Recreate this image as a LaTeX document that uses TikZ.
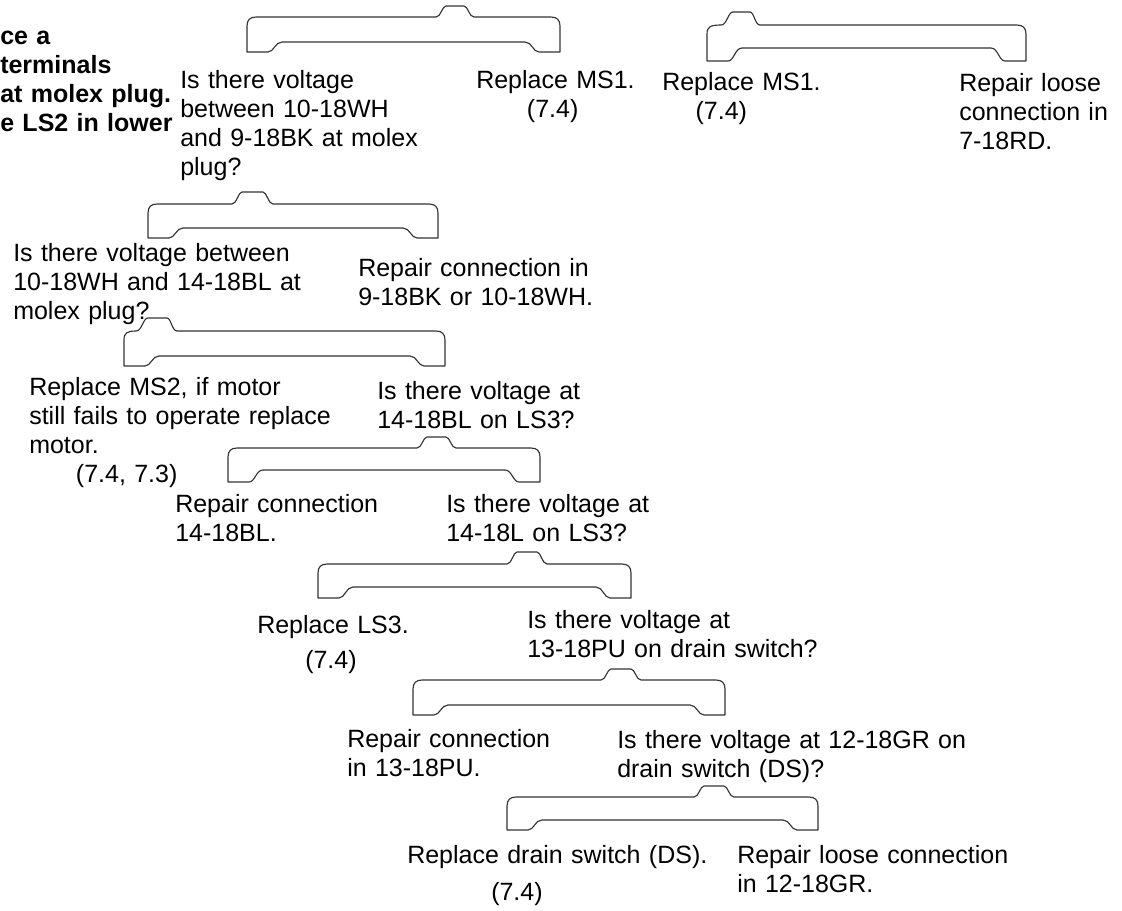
\documentclass[tikz,border=0pt]{standalone}
\usepackage{fontspec}
\setmainfont{Liberation Sans}
% bracket with bump in the middle: L R T I B xa xb H
\newcommand{\brkM}[8]{%
\draw[brk] (#1,#5) -- ({#1+21},#5) .. controls ({#1+27},#5) and ({#1+28},#4) .. ({#1+35},#4)
 -- ({#2-35},#4) .. controls ({#2-28},#4) and ({#2-27},#5) .. ({#2-21},#5) -- (#2,#5)
 -- (#2,{#3+9}) .. controls (#2,{#3+3}) and ({#2-3},#3) .. ({#2-9},#3)
 -- ({#7+10},#3) .. controls ({#7+5},#3) and ({#7+4},#8) .. (#7,#8)
 -- (#6,#8) .. controls ({#6-4},#8) and ({#6-5},#3) .. ({#6-10},#3)
 -- ({#1+9},#3) .. controls ({#1+3},#3) and (#1,{#3+3}) .. (#1,{#3+9}) -- cycle;}
% bracket with bump next to the left corner
\newcommand{\brkL}[8]{%
\draw[brk] (#1,#5) -- ({#1+21},#5) .. controls ({#1+27},#5) and ({#1+28},#4) .. ({#1+35},#4)
 -- ({#2-35},#4) .. controls ({#2-28},#4) and ({#2-27},#5) .. ({#2-21},#5) -- (#2,#5)
 -- (#2,{#3+9}) .. controls (#2,{#3+3}) and ({#2-3},#3) .. ({#2-9},#3)
 -- ({#7+10},#3) .. controls ({#7+5},#3) and ({#7+4},#8) .. (#7,#8)
 -- (#6,#8) .. controls ({#6-5},#8) and ({#6-6},#3) .. ({#6-12},#3)
 .. controls ({#1+3},#3) and (#1,{#3+2}) .. (#1,{#3+9}) -- cycle;}
\begin{document}
\begin{tikzpicture}[x=0.75pt,y=-0.75pt,
  txt/.style={anchor=base west,inner sep=0pt,text width=12cm,align=left,
    font={\fontsize{18.75pt}{21.75pt}\selectfont},text=black},
  bld/.style={txt,font={\fontsize{18.75pt}{21.75pt}\selectfont\bfseries}},
  brk/.style={draw=black!80,line width=0.85pt,line join=round}]
\useasboundingbox[fill=white] (0,0) rectangle (1122,911);

% texts
\node[bld] (bold) at (0,44) {ce a\\terminals\\at molex plug.\\e LS2 in lower};
\node[txt] (q1) at (180,88) {Is there voltage\\between 10-18WH\\and 9-18BK at molex\\plug?};
\node[txt] (ms1a) at (476,88) {Replace MS1.\\\hspace*{38pt}(7.4)};
\node[txt] (ms1b) at (662,90) {Replace MS1.\\\hspace*{25pt}(7.4)};
\node[txt] (rl1) at (959,91) {Repair loose\\connection in\\7-18RD.};
\node[txt] (q2) at (13,261) {Is there voltage between\\10-18WH and 14-18BL at\\molex plug?};
\node[txt] (rc1) at (358,276) {Repair connection in\\9-18BK or 10-18WH.};
\node[txt] (ms2) at (29,395) {Replace MS2, if motor\\still fails to operate replace\\motor.\\\hspace*{35pt}(7.4, 7.3)};
\node[txt] (q3) at (377,399) {Is there voltage at\\14-18BL on LS3?};
\node[txt] (rc2) at (175,512) {Repair connection\\14-18BL.};
\node[txt] (q4) at (446,512) {Is there voltage at\\14-18L on LS3?};
\node[txt] (ls3) at (257,633) {Replace LS3.\\[4.5pt]\hspace*{36pt}(7.4)};
\node[txt] (q5) at (527,628) {Is there voltage at\\13-18PU on drain switch?};
\node[txt] (rc3) at (347,747) {Repair connection\\in 13-18PU.};
\node[txt] (q6) at (617,748) {Is there voltage at 12-18GR on\\drain switch (DS)?};
\node[txt] (ds) at (407,863) {Replace drain switch (DS).\\[6pt]\hspace*{63pt}(7.4)};
\node[txt] (rl2) at (737,863) {Repair loose connection\\in 12-18GR.};

% brackets
\brkM{247}{560}{17}{42}{52}{446}{464}{6}
\brkL{707}{1026}{25}{48}{61}{733}{750}{12}
\brkM{148}{438}{204}{228}{238}{242}{263}{192}
\brkL{124}{445}{331}{356}{366}{148}{167}{318}
\brkM{228}{540}{448}{470}{482}{427}{446}{437}
\brkM{318}{631}{564}{587}{598}{517}{537}{552}
\brkM{413}{725}{680}{705}{715}{611}{631}{669}
\brkM{507}{818}{797}{820}{830}{704}{724}{786}
\end{tikzpicture}
\end{document}
